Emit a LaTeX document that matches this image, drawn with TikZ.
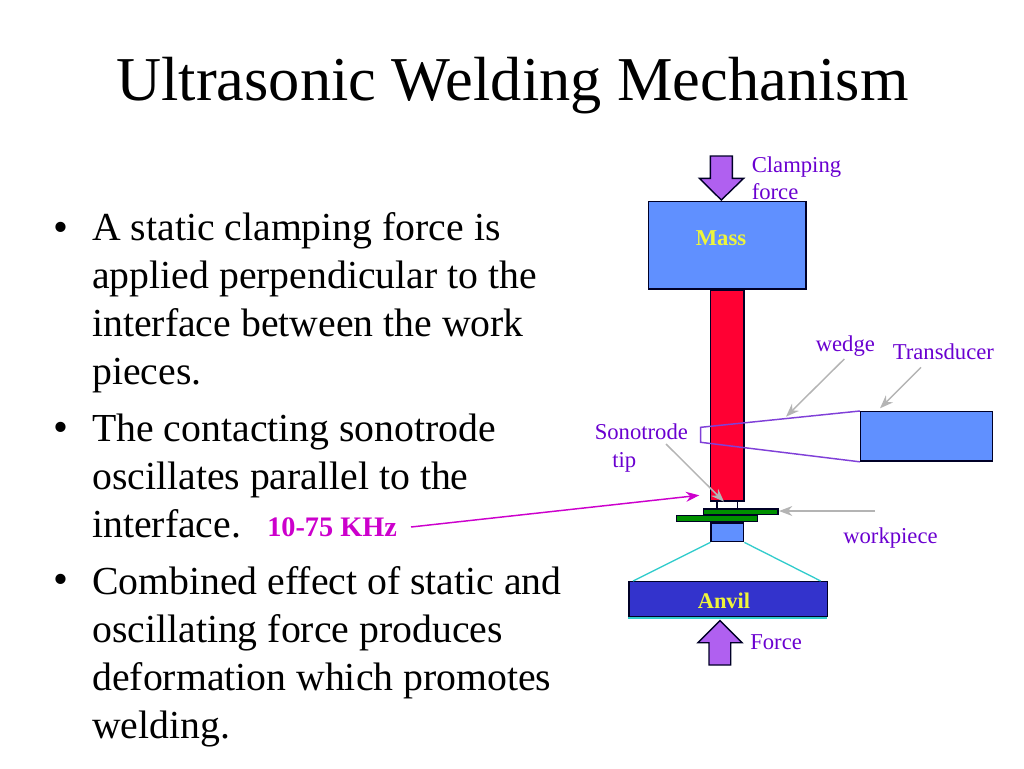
\documentclass[tikz,border=0pt]{standalone}
\usepackage{fontspec}
\setmainfont{Liberation Serif}
\usetikzlibrary{arrows.meta}
\definecolor{lblpurple}{HTML}{6A00D0}
\definecolor{wedgeline}{HTML}{8040D8}
\definecolor{blockblue}{HTML}{6090FF}
\definecolor{sonored}{HTML}{FF0033}
\definecolor{workgreen}{HTML}{009000}
\definecolor{anvilblue}{HTML}{3333CC}
\definecolor{forcepurple}{HTML}{B060F0}
\definecolor{cyanline}{HTML}{33CCCC}
\definecolor{hzmagenta}{HTML}{CC00CC}
\definecolor{massyellow}{HTML}{EEF53A}
\definecolor{arrowgray}{HTML}{B4B4B4}
\tikzset{
  px/.style={x=0.75pt,y=-0.75pt},
  body/.style={anchor=north west,inner sep=0pt,align=left,font=\fontsize{29.8pt}{36pt}\selectfont,text=black},
  bulletmark/.style={anchor=base west,inner sep=0pt,font=\fontsize{32pt}{36pt}\selectfont},
  lbl/.style={anchor=base west,inner sep=0pt,align=left,text=lblpurple,font=\fontsize{17pt}{20pt}\selectfont},
  partbox/.style={draw=black!85!blue,line width=1.05pt,fill=blockblue},
  grayarrow/.style={draw=arrowgray,line width=1.1pt,-{Stealth[length=10pt,width=7.5pt]}},
  forcearrow/.style={draw=black!85!blue,line width=1.05pt,fill=forcepurple},
  wedge/.style={draw=wedgeline,line width=1.1pt},
  cyanedge/.style={draw=cyanline,line width=1pt},
}
\begin{document}
\begin{tikzpicture}[px]
\useasboundingbox (0,0) rectangle (1024,768);
% title
\node[anchor=base,inner sep=0pt,font=\fontsize{46.8pt}{54pt}\selectfont] (title) at (512.5,100) {Ultrasonic Welding Mechanism};
% bullets
\node[bulletmark] (b1) at (53,241) {•};
\node[body] (t1) at (92,212) {A static clamping force is\\applied perpendicular to the\\interface between the work\\pieces.};
\node[bulletmark] (b2) at (53,441) {•};
\node[body] (t2) at (92,414) {The contacting sonotrode\\oscillates parallel to the\\interface.};
\node[bulletmark] (b3) at (53,593) {•};
\node[body] (t3) at (92,566) {Combined effect of static and\\oscillating force produces\\deformation which promotes\\welding.};
\node[anchor=base west,inner sep=0pt,text=hzmagenta,font=\bfseries\fontsize{21.2pt}{24pt}\selectfont] (hz) at (267,536) {10-75 KHz};
% parts
\node[partbox,fill=sonored,anchor=north west,minimum width=33.2*0.75pt,minimum height=210.3*0.75pt,inner sep=0pt] (horn) at (710,290) {};
\node[partbox,fill=white,anchor=north west,minimum width=20.6*0.75pt,minimum height=8*0.75pt,inner sep=0pt] (tip) at (716.4,500.3) {};
\node[partbox,anchor=north west,minimum width=157.2*0.75pt,minimum height=87.6*0.75pt,inner sep=0pt] (mass) at (648,200.5) {};
\node[anchor=base,inner sep=0pt,text=massyellow,font=\bfseries\fontsize{17pt}{18pt}\selectfont] (masslbl) at (721,245) {Mass};
\node[partbox,anchor=north west,minimum width=132*0.75pt,minimum height=49.4*0.75pt,inner sep=0pt] (trans) at (859.8,411) {};
\node[partbox,fill=workgreen,anchor=north west,minimum width=74.4*0.75pt,minimum height=5.7*0.75pt,inner sep=0pt] (work1) at (703,508.3) {};
\node[partbox,fill=workgreen,anchor=north west,minimum width=80.7*0.75pt,minimum height=5.7*0.75pt,inner sep=0pt] (work2) at (676,515) {};
\node[partbox,anchor=north west,minimum width=32.6*0.75pt,minimum height=18.7*0.75pt,inner sep=0pt] (block) at (710.4,522.3) {};
\node[partbox,fill=anvilblue,anchor=north west,minimum width=198.7*0.75pt,minimum height=34.5*0.75pt,inner sep=0pt] (anvil) at (628.3,581) {};
\node[anchor=base,inner sep=0pt,text=massyellow,font=\bfseries\fontsize{16.8pt}{18pt}\selectfont] (anvillbl) at (724,608) {Anvil};
% anvil underline
\coordinate (ua) at (628,618);
\coordinate (ub) at (827,618);
\draw[cyanedge] (ua) -- (ub);
% force arrows
\draw[forcearrow] (710.3,156) -- (732.3,156) -- (732.3,178.3) -- (743.7,178.3) -- (721.3,200) -- (699.3,178.3) -- (710.3,178.3) -- cycle;
\draw[forcearrow] (709,665) -- (730.7,665) -- (730.7,642.7) -- (742,642.7) -- (720,620.7) -- (698,642.7) -- (709,642.7) -- cycle;
% labels
\node[lbl] (clamp) at (751.5,172) {Clamping};
\node[lbl] (cforce) at (751.5,199) {force};
\node[lbl] (wedgelbl) at (815.5,351) {wedge};
\node[lbl] (translbl) at (892.5,359) {Transducer};
\node[lbl] (sono) at (594.5,439) {Sonotrode};
\node[lbl] (tiplbl) at (612,467) {tip};
\node[lbl] (worklbl) at (843,543) {workpiece};
\node[lbl] (forcelbl) at (750,649) {Force};
% connector ends
\coordinate (wa) at (844.3,359);
\coordinate (wb) at (786,416.7);
\coordinate (ta) at (921,367.3);
\coordinate (tb) at (880,408.3);
\coordinate (sa) at (666,444);
\coordinate (sb) at (724,501.7);
\coordinate (pa) at (875,511);
\coordinate (pb) at (779,511);
\coordinate (ha) at (411,527);
\coordinate (hb) at (699.3,495.3);
\coordinate (w1) at (700.7,427.3);
\coordinate (w2) at (700.7,442.3);
\coordinate (ca) at (633,581);
\coordinate (cb) at (820.7,581);
% wedge
\draw[wedge] (trans.north west) -- (w1) -- (w2) -- (trans.south west);
% cyan
\draw[cyanedge] (block.south west) -- (ca);
\draw[cyanedge] (block.south east) -- (cb);
% gray arrows
\draw[grayarrow] (wa) -- (wb);
\draw[grayarrow] (ta) -- (tb);
\draw[grayarrow] (sa) -- (sb);
\draw[grayarrow] (pa) -- (pb);
\draw[draw=hzmagenta,line width=1.1pt,-{Stealth[length=10pt,width=7.5pt]}] (ha) -- (hb);
\end{tikzpicture}
\end{document}
